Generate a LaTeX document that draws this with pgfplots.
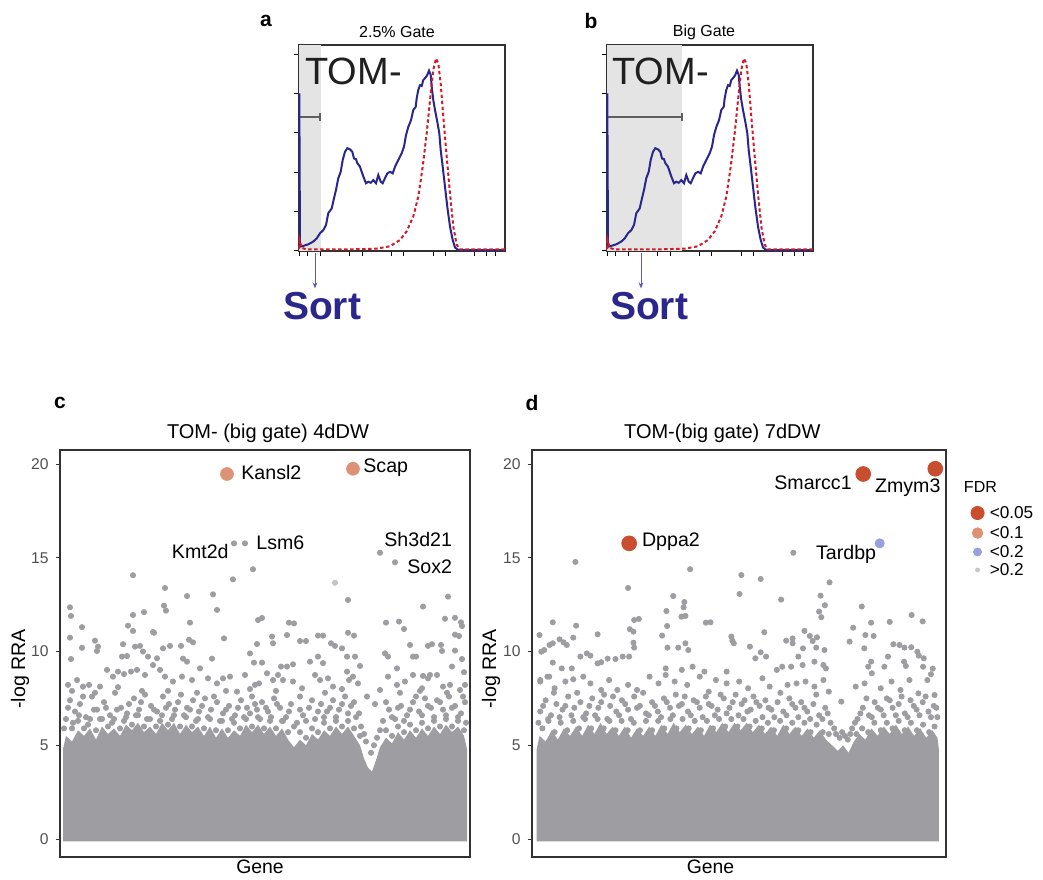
\documentclass[border=0pt]{standalone}
\usepackage{fontspec}
\setmainfont{Liberation Sans}
\usepackage{pgfplots}
\pgfplotsset{compat=1.18}
\usetikzlibrary{arrows.meta}

\definecolor{histblue}{RGB}{43,38,140}
\definecolor{histred}{RGB}{208,27,40}
\definecolor{gatefill}{RGB}{228,228,228}
\definecolor{barcol}{RGB}{95,95,95}
\definecolor{ptgray}{RGB}{158,158,162}
\definecolor{ltgray}{RGB}{196,196,198}
\definecolor{fdrA}{RGB}{201,78,47}
\definecolor{fdrB}{RGB}{222,146,117}
\definecolor{fdrC}{RGB}{152,160,220}
\definecolor{fdrD}{RGB}{200,200,200}
\definecolor{tickgray}{RGB}{80,80,80}
\definecolor{framecol}{RGB}{50,50,50}

\newcommand{\fs}[1]{\fontsize{#1}{#1}\selectfont}

\pgfplotsset{
  hist/.style={
    scale only axis, width=103pt, height=103pt,
    xmin=0, xmax=206, ymin=0, ymax=5.23,
    xtick={0,8.7,21.3,50.5,63.3,92.3,104.3,134,146.5,175.2,187.6,196.7},
    ytick={0,1,2,3,4,5},
    xticklabels={}, yticklabels={},
    tick align=outside, xtick pos=bottom, ytick pos=left,
    major tick length=2.6pt,
    every tick/.style={black, line width=0.5pt},
    axis line style={framecol, line width=0.6pt},
    clip=false,
  },
  rra/.style={
    scale only axis, height=203.5pt,
    ymin=-0.96, ymax=20.75,
    ytick={0,5,10,15,20}, xtick=\empty,
    tick align=outside, ytick pos=left,
    major tick length=2.2pt,
    every tick/.style={framecol, line width=0.5pt},
    axis line style={framecol, line width=0.6pt},
    tick label style={font=\fs{7.8}, text=tickgray},
    /pgf/number format/assume math mode=true,
    clip=false,
  },
  dots/.style={only marks, mark=*, mark size=1.3pt, color=ptgray},
}

\begin{document}
\begin{tikzpicture}
\useasboundingbox (0,0) rectangle (521.5pt,439.5pt);

% ---------- a ----------
\begin{axis}[hist, at={(149.5pt,314pt)}, anchor=south west]
\addplot[fill=gatefill, draw=none] coordinates {(0,0) (21.5,0) (21.5,5.23) (0,5.23)};
\addplot[barcol, line width=0.6pt] coordinates {(0.5,3.4) (21,3.4)};
\addplot[barcol, line width=0.6pt] coordinates {(21,3.3) (21,3.5)};
\addplot[histblue, line width=1pt] coordinates {
(0.3,4.0) (1,0.11) (4.3,0.13) (9.3,0.17) (14.3,0.24) (17.7,0.32) (21,0.45) (24.3,0.53)
(27,0.66) (29.3,0.96) (32.7,1.08) (35,1.34) (37,1.55) (39.3,1.85) (41.7,2.01) (43.7,2.31)
(46,2.52) (48.3,2.61) (51,2.58) (53.3,2.52) (55,2.35) (57,2.33) (58.3,2.23) (61,2.14)
(64.3,1.89) (67,1.72) (69.3,1.76) (71.7,1.73) (74.3,1.80) (77,1.72) (79.3,1.93) (81.7,1.76)
(83.7,1.72) (86,1.85) (88.3,1.97) (91,2.01) (93.7,1.97) (96,2.14) (99.3,2.31) (102.7,2.48)
(105,2.65) (107,2.94) (109.3,3.15) (112,3.32) (114.3,3.58) (116.7,3.66) (117.7,3.88)
(119.3,4.09) (121,4.21) (122.7,4.19) (124.3,4.34) (126.7,4.41) (128.3,4.47) (130,4.58)
(131.7,4.47) (132.7,4.17) (134.3,3.83) (136,3.58) (138.3,3.28) (140.3,2.99) (141.7,2.56)
(143.7,2.14) (146,1.63) (148.3,1.12) (151,0.62) (153.7,0.28) (156,0.09) (158.3,0.04)
(164.3,0.02) (206,0.02)};
\addplot[histred, line width=1pt, dash pattern=on 1.7pt off 1.3pt] coordinates {
(0.2,0.05) (0.5,0.28) (2.7,0.08) (7.7,0.04) (51,0.04) (77.7,0.06) (91,0.12) (101,0.28)
(107.7,0.5) (114.3,0.88) (119.3,1.38) (123.7,2.14) (127.7,2.99) (131,3.83) (134.3,4.6)
(137,4.89) (139.3,4.76) (141.7,4.25) (144.3,3.41) (147.7,2.39) (151,1.46) (154.3,0.62)
(157.7,0.16) (161,0.04) (206,0.04)};
\addplot[histblue!75, line width=0.5pt, -{Stealth[length=3pt,width=2.4pt]}] coordinates {(16,-0.05) (16,-0.95)};
\node[anchor=west, inner sep=0pt, font=\fs{19}, text=black!88] at (axis cs:6,4.57) {TOM-};
\node[font=\fs{8}] at (axis cs:98,5.56) {2.5\% Gate};
\node[font=\bfseries\fs{10.5}] at (axis cs:-33,5.84) {a};
\node[font=\bfseries\fs{19.5}, text=histblue] at (axis cs:23,-1.40) {Sort};
\end{axis}

% ---------- b ----------
\begin{axis}[hist, at={(303.5pt,314pt)}, anchor=south west]
\addplot[fill=gatefill, draw=none] coordinates {(0,0) (75,0) (75,5.23) (0,5.23)};
\addplot[barcol, line width=0.6pt] coordinates {(0.5,3.4) (75,3.4)};
\addplot[barcol, line width=0.6pt] coordinates {(75,3.3) (75,3.5)};
\addplot[histblue, line width=1pt] coordinates {
(0.3,4.0) (1,0.11) (4.3,0.13) (9.3,0.17) (14.3,0.24) (17.7,0.32) (21,0.45) (24.3,0.53)
(27,0.66) (29.3,0.96) (32.7,1.08) (35,1.34) (37,1.55) (39.3,1.85) (41.7,2.01) (43.7,2.31)
(46,2.52) (48.3,2.61) (51,2.58) (53.3,2.52) (55,2.35) (57,2.33) (58.3,2.23) (61,2.14)
(64.3,1.89) (67,1.72) (69.3,1.76) (71.7,1.73) (74.3,1.80) (77,1.72) (79.3,1.93) (81.7,1.76)
(83.7,1.72) (86,1.85) (88.3,1.97) (91,2.01) (93.7,1.97) (96,2.14) (99.3,2.31) (102.7,2.48)
(105,2.65) (107,2.94) (109.3,3.15) (112,3.32) (114.3,3.58) (116.7,3.66) (117.7,3.88)
(119.3,4.09) (121,4.21) (122.7,4.19) (124.3,4.34) (126.7,4.41) (128.3,4.47) (130,4.58)
(131.7,4.47) (132.7,4.17) (134.3,3.83) (136,3.58) (138.3,3.28) (140.3,2.99) (141.7,2.56)
(143.7,2.14) (146,1.63) (148.3,1.12) (151,0.62) (153.7,0.28) (156,0.09) (158.3,0.04)
(164.3,0.02) (206,0.02)};
\addplot[histred, line width=1pt, dash pattern=on 1.7pt off 1.3pt] coordinates {
(0.2,0.05) (0.5,0.28) (2.7,0.08) (7.7,0.04) (51,0.04) (77.7,0.06) (91,0.12) (101,0.28)
(107.7,0.5) (114.3,0.88) (119.3,1.38) (123.7,2.14) (127.7,2.99) (131,3.83) (134.3,4.6)
(137,4.89) (139.3,4.76) (141.7,4.25) (144.3,3.41) (147.7,2.39) (151,1.46) (154.3,0.62)
(157.7,0.16) (161,0.04) (206,0.04)};
\addplot[histblue!75, line width=0.5pt, -{Stealth[length=3pt,width=2.4pt]}] coordinates {(34,-0.05) (34,-0.95)};
\node[anchor=west, inner sep=0pt, font=\fs{19}, text=black!88] at (axis cs:5,4.57) {TOM-};
\node[font=\fs{8}] at (axis cs:97,5.56) {Big Gate};
\node[font=\bfseries\fs{10.5}] at (axis cs:-16,5.84) {b};
\node[font=\bfseries\fs{19.5}, text=histblue] at (axis cs:42,-1.40) {Sort};
\end{axis}

% ---------- c ----------
\begin{axis}[rra, at={(30pt,11pt)}, anchor=south west, width=205pt, xmin=60, xmax=470]
\addplot[fill=ptgray, draw=none] coordinates {
(63,-0.13) (63,4.8) (66,5.5) (72,5.2) (78,5.8) (84,5.5) (90,5.9) (96,5.3) (102,6.0) (108,5.6)
(114,5.9) (120,5.5) (126,6.1) (132,5.8) (138,6.2) (144,5.7) (150,6.0) (156,5.6) (162,6.2)
(168,5.8) (174,6.2) (180,5.6) (186,6.1) (192,5.7) (198,6.0) (204,5.5) (210,6.0) (216,5.4)
(222,5.9) (228,5.4) (234,5.8) (240,5.5) (246,6.1) (252,5.7) (258,6.1) (264,5.6) (270,6.0)
(276,5.5) (282,5.9) (288,5.3) (294,4.9) (300,5.3) (306,5.0) (312,5.6) (318,5.3) (324,5.8)
(330,5.5) (336,6.0) (342,5.6) (348,6.0) (354,5.5) (360,5.0) (364,4.3) (368,3.8) (372,3.6)
(376,4.2) (380,4.9) (386,5.4) (392,5.1) (398,5.7) (404,5.3) (410,5.8) (416,5.4) (422,5.9)
(428,5.5) (434,6.0) (440,5.6) (446,6.1) (452,5.7) (458,6.0) (464,5.5) (467,4.8) (467,-0.13)};
\addplot[dots] coordinates {
(72,5.9) (78,6.3) (84,5.9) (90,6.4) (96,5.8) (102,6.4) (108,6.0) (114,6.4) (120,5.9) (126,6.5)
(132,6.1) (138,6.6) (144,6.0) (150,6.4) (156,6.0) (162,6.6) (168,6.1) (174,6.6) (180,6.0)
(186,6.5) (192,6.0) (198,6.4) (204,5.9) (210,6.4) (216,5.8) (222,6.3) (228,5.8) (234,6.2)
(240,5.9) (246,6.4) (252,6.0) (258,6.5) (264,5.9) (270,6.3) (276,5.9) (282,6.3) (288,5.7)
(300,5.7) (306,5.4) (312,5.9) (318,5.7) (324,6.2) (330,5.9) (336,6.3) (342,6.0) (348,6.3)
(354,5.9) (360,5.5) (386,5.8) (392,5.5) (398,6.0) (404,5.7) (410,6.1) (416,5.8) (422,6.2)
(428,5.9) (434,6.3) (440,6.0) (446,6.4) (452,6.0) (458,6.3) (464,5.8)
(66,6.4) (70,7.4) (75,6.8) (80,7.2) (86,6.5) (92,7.6) (97,6.9) (104,7.3) (110,6.6) (115,7.8)
(121,7.0) (127,6.7) (134,7.5) (139,6.9) (145,7.7) (151,7.1) (157,6.8) (163,7.6) (169,7.2)
(175,6.9) (181,7.7) (187,7.0) (193,7.4) (199,6.8) (205,7.5) (211,6.9) (217,7.3) (223,6.7)
(229,7.1) (235,6.6) (241,7.4) (247,7.0) (252,7.6) (257,6.9) (262,7.3) (268,6.8) (274,7.5)
(280,7.0) (286,6.5) (291,7.2) (297,6.2) (303,6.6) (309,7.0) (315,6.4) (321,7.2) (327,6.8)
(333,7.4) (339,6.9) (345,7.6) (351,7.1) (356,6.5) (361,6.0) (366,5.2) (371,4.6) (377,5.4)
(383,6.3) (389,6.9) (395,6.4) (401,7.1) (407,6.6) (413,7.3) (419,6.8) (425,7.5) (431,7.0)
(437,7.4) (443,6.9) (449,7.6) (455,7.1) (461,6.7) (465,7.3)
(64,5.9) (68,7.0) (73,6.2) (79,6.6) (83,7.6) (88,6.1) (94,6.9) (100,6.4) (106,7.0) (112,6.2)
(117,6.9) (124,6.3) (129,7.2) (136,6.6) (141,7.3) (147,6.4) (154,6.9) (160,6.3) (166,7.0)
(172,6.4) (178,7.3) (184,6.6) (190,6.9) (196,6.3) (202,7.1) (208,6.5) (214,7.6) (220,6.3)
(226,6.9) (232,6.4) (238,7.0) (244,6.5) (250,6.7) (255,7.2) (260,6.4) (266,7.0) (271,6.5)
(277,7.2) (283,6.3) (289,6.8) (294,6.0) (300,6.9) (306,6.3) (312,7.4) (318,6.8) (324,6.5)
(330,7.0) (336,6.5) (342,7.2) (348,6.7) (354,7.3) (359,6.7) (364,5.6) (374,5.0) (380,5.8)
(386,7.3) (392,6.5) (398,7.0) (404,6.3) (410,6.9) (416,7.6) (422,6.6) (428,7.1) (434,6.5)
(440,7.3) (446,6.6) (452,7.0) (458,6.5) (463,7.6) (466,6.2)
(72,7.9) (95,7.8) (118,8.1) (142,7.9) (168,7.9) (197,7.8) (226,7.9) (250,8.0) (276,7.9)
(300,7.6) (325,7.8) (342,8.0) (375,7.2) (400,7.8) (420,7.9) (447,7.8)
(68,8.22) (77,8.48) (83,8.13) (89,8.22) (100,8.13) (107,9.02) (113,8.66) (118,8.93) (124,8.8)
(131,8.93) (137,9.02) (145,8.75) (153,9.28) (160,9.02) (165,8.66) (173,8.4) (182,8.66)
(192,8.48) (200,9.1) (208,8.57) (217,8.3) (223,8.57) (230,8.66) (237,7.86) (245,8.75)
(255,8.22) (259,8.3) (267,8.84) (273,8.48) (278,8.75) (283,8.48) (293,8.4) (302,8.04)
(315,8.75) (320,8.48) (328,8.57) (333,8.13) (347,8.93) (349,8.48) (353,8.66) (358,8.3)
(367,7.6) (380,7.95) (388,8.66) (397,8.22) (405,8.4) (413,8.75) (422,8.04) (428,8.57)
(437,8.75) (443,8.13) (450,8.22) (460,7.95) (465,8.22)
(234,15.77) (245,15.77) (253,14.39) (233,13.85) (133,14.07) (165,13.39) (187,12.96)
(213,13.05) (217,12.22) (348,12.75) (380,15.27) (395,14.76) (448,12.93) (423,12.4)
(70,12.36) (71,11.9) (82,11.3) (70,10.74) (133,11.95) (144,12.1) (164,12.45) (166,12.18)
(190,11.54) (128,11.38) (133,11.1) (153,11.04) (154,11.0) (189,10.63) (193,10.49) (224,10.7)
(258,11.68) (262,11.79) (289,11.54) (294,11.5) (257,10.4) (272,10.8) (273,10.44) (287,10.88)
(300,10.56) (306,10.56) (318,10.85) (323,10.85) (331,10.44) (335,10.3) (348,11.0) (354,10.85)
(386,11.54) (399,11.6) (404,11.2) (445,11.75) (455,11.8) (461,11.56) (462,11.36) (455,10.9)
(459,10.83) (410,10.35) (428,10.3) (432,10.39) (441,10.35) (455,10.05) (442,10.03) (342,10.17)
(95,10.58) (98,10.26) (97,10.03) (82,10.2) (71,9.6) (123,10.39) (135,10.26) (140,10.3)
(163,10.17) (170,10.3) (181,10.3) (143,10.0) (122,9.73) (127,9.76) (148,9.73) (157,9.64)
(183,9.62) (187,9.46) (212,9.62) (250,9.9) (254,9.41) (262,9.41) (281,9.2) (287,9.2)
(293,9.32) (310,9.46) (318,9.73) (323,9.38) (347,9.73) (355,9.73) (360,9.23) (385,9.9)
(388,9.73) (413,9.73) (416,9.73) (397,9.1) (452,9.2) (462,9.6) (464,8.9) (430,8.75) (423,8.7)};
\addplot[only marks, mark=*, mark size=1.3pt, color=ltgray] coordinates {(335,13.67)};
\addplot[only marks, mark=*, mark size=3.2pt, color=fdrB] coordinates {(227,19.47) (353,19.75)};
\node[anchor=west, inner sep=0pt, font=\fs{9.8}] at (axis cs:241,19.57) {Kansl2};
\node[anchor=west, inner sep=0pt, font=\fs{9.8}] at (axis cs:363,19.79) {Scap};
\node[anchor=east, inner sep=0pt, font=\fs{9.8}] at (axis cs:229,15.36) {Kmt2d};
\node[anchor=west, inner sep=0pt, font=\fs{9.8}] at (axis cs:256,15.79) {Lsm6};
\node[anchor=west, inner sep=0pt, font=\fs{9.8}] at (axis cs:384,15.95) {Sh3d21};
\node[anchor=west, inner sep=0pt, font=\fs{9.8}] at (axis cs:407,14.5) {Sox2};
\node[font=\fs{10}] at (axis cs:268,21.65) {TOM- (big gate) 4dDW};
\node[font=\bfseries\fs{10.5}] at (axis cs:60,23.25) {c};
\node[font=\fs{9.7}] at (axis cs:260,-1.49) {Gene};
\node[rotate=90, font=\fs{9.8}] at (axis cs:20,9.07) {-log RRA};
\end{axis}

% ---------- d ----------
\begin{axis}[rra, at={(266pt,11pt)}, anchor=south west, width=207pt, xmin=147, xmax=1302]
\addplot[fill=ptgray, draw=none] coordinates {
(160,-0.13) (160,4.8) (168,5.5) (185,5.2) (202,5.8) (219,5.3) (236,5.9) (253,5.5) (270,6.0)
(287,5.5) (304,6.1) (321,5.6) (338,6.2) (355,5.6) (372,6.0) (389,5.5) (406,6.0) (423,5.4)
(440,5.9) (457,5.5) (474,6.0) (491,5.5) (508,6.1) (525,5.6) (542,6.2) (559,5.7) (576,6.1)
(593,5.6) (610,6.0) (627,5.5) (644,6.1) (661,5.7) (678,6.2) (695,5.7) (712,6.2) (729,5.8)
(746,6.2) (763,5.7) (780,6.1) (797,5.6) (814,6.0) (831,5.5) (848,6.1) (865,5.6) (882,6.0)
(899,5.5) (916,5.9) (933,5.4) (950,5.8) (967,5.3) (984,5.0) (1000,4.7) (1015,5.0) (1030,4.6)
(1045,5.2) (1060,5.6) (1077,5.3) (1094,5.9) (1111,5.5) (1128,6.0) (1145,5.6) (1162,6.1)
(1179,5.6) (1196,6.0) (1213,5.5) (1230,5.9) (1247,5.4) (1264,5.8) (1278,5.4) (1282,4.8)
(1282,-0.13)};
\addplot[dots] coordinates {
(176,5.9) (193,6.3) (210,5.7) (227,6.2) (245,5.8) (262,6.3) (278,5.9) (295,6.4) (312,5.9)
(330,6.4) (347,5.9) (363,6.3) (380,5.8) (397,6.3) (414,5.8) (431,6.2) (448,5.8) (465,6.3)
(482,5.8) (499,6.3) (516,5.9) (533,6.4) (550,5.9) (567,6.4) (584,5.9) (601,6.3) (618,5.8)
(635,6.3) (652,5.9) (669,6.4) (686,6.0) (703,6.4) (720,6.0) (737,6.4) (754,6.0) (771,6.3)
(788,5.9) (805,6.2) (822,5.8) (839,6.3) (856,5.9) (873,6.2) (890,5.8) (907,6.2) (924,5.7)
(941,6.1) (958,5.7) (975,5.6) (1052,5.6) (1068,5.9) (1085,5.7) (1102,6.2) (1120,5.8)
(1137,6.2) (1153,5.9) (1170,6.3) (1187,5.8) (1204,6.2) (1221,5.8) (1238,6.1) (1255,5.7)
(1270,6.0)
(170,6.8) (185,7.4) (200,6.6) (215,7.2) (232,6.9) (248,7.6) (265,7.0) (282,7.3) (298,6.7)
(315,7.5) (332,7.0) (348,7.7) (365,7.1) (382,6.8) (398,7.4) (415,6.9) (432,7.6) (448,7.1)
(465,6.7) (482,7.3) (498,6.8) (515,7.5) (532,7.0) (548,7.7) (565,7.2) (582,6.8) (598,7.4)
(615,7.0) (632,7.6) (648,7.1) (665,6.9) (682,7.5) (698,7.0) (715,7.7) (732,7.2) (748,6.8)
(765,7.6) (782,7.1) (798,7.4) (815,6.9) (832,7.3) (848,6.8) (865,7.5) (882,7.0) (898,7.3)
(915,6.8) (932,7.2) (948,6.6) (965,7.0) (980,6.2) (995,5.6) (1012,5.7) (1028,5.3) (1040,5.9)
(1055,6.4) (1070,7.0) (1087,6.6) (1103,7.3) (1120,6.9) (1137,7.5) (1153,7.0) (1170,7.2)
(1187,6.7) (1203,7.4) (1220,6.9) (1237,7.3) (1253,6.8) (1268,7.1) (1278,6.5)
(165,6.2) (178,7.1) (192,6.4) (208,7.8) (224,6.5) (240,7.1) (257,6.6) (273,7.8) (290,6.5)
(307,7.1) (323,6.6) (340,7.3) (357,6.4) (373,7.6) (390,6.6) (407,7.2) (423,6.4) (440,7.0)
(457,7.8) (473,6.6) (490,7.1) (507,6.5) (523,7.3) (540,6.6) (557,7.1) (573,7.6) (590,6.6)
(607,7.3) (623,6.5) (640,7.2) (657,6.6) (673,7.7) (690,6.7) (707,7.3) (723,6.6) (740,7.4)
(757,6.9) (773,7.3) (790,6.5) (807,7.0) (823,6.5) (840,7.8) (857,6.6) (873,7.2) (890,6.5)
(907,7.0) (923,6.4) (940,7.7) (957,6.4) (972,6.7) (990,5.9) (1005,5.4) (1020,5.5) (1035,5.6)
(1048,6.2) (1063,6.7) (1080,7.5) (1095,6.5) (1112,7.0) (1128,6.6) (1145,7.4) (1162,6.6)
(1178,7.6) (1195,6.5) (1212,7.1) (1228,6.6) (1245,7.6) (1260,6.5) (1275,7.0)
(170,8.48) (195,8.66) (210,8.04) (240,8.4) (262,8.52) (290,8.66) (310,8.3) (340,7.95)
(362,8.48) (385,7.95) (415,8.22) (440,7.95) (475,8.66) (500,8.3) (520,8.75) (545,8.4)
(580,8.22) (615,8.66) (640,7.86) (660,8.48) (690,8.3) (725,8.4) (750,8.04) (790,8.57)
(810,8.13) (830,9.02) (860,8.22) (885,8.3) (910,8.4) (935,8.13) (960,8.48) (975,7.86)
(1010,7.33) (1050,8.13) (1075,8.3) (1095,8.84) (1120,8.04) (1150,8.4) (1175,7.95)
(1200,8.48) (1225,7.77) (1250,8.48) (1270,7.68)
(876,15.27) (268,14.78) (588,14.39) (731,14.08) (785,13.87) (977,13.69) (415,13.39)
(541,12.96) (726,13.07) (952,12.98) (842,12.77) (964,12.47) (1067,12.4) (572,12.64)
(570,12.36) (522,12.16) (948,12.13) (954,11.83) (1206,11.95) (564,11.86) (575,11.9)
(432,11.68) (445,11.74) (632,11.54) (645,11.56) (1145,11.58) (1237,11.61) (1093,11.54)
(205,11.56) (270,11.38) (524,11.36) (420,11.19) (430,11.06) (907,11.1) (795,11.03)
(1043,11.27) (1100,10.83) (1077,10.88) (168,10.88) (330,10.92) (510,10.85) (703,10.8)
(706,10.58) (262,10.74) (224,10.65) (235,10.49) (205,10.44) (244,10.35) (181,10.08)
(196,10.35) (173,9.99) (432,10.21) (430,10.47) (856,10.58) (874,10.7) (874,10.44)
(922,10.83) (930,10.56) (942,10.76) (1033,10.53) (1074,10.17) (963,10.08) (940,10.21)
(903,10.17) (575,10.44) (583,10.08) (555,10.21) (525,10.21) (755,10.26) (785,9.96)
(710,10.44) (1155,10.39) (1172,10.35) (1186,10.21) (1205,10.23) (1222,9.99) (1226,9.78)
(1240,9.64) (1238,9.19) (1265,9.09) (1260,8.79) (1140,9.73) (1093,9.46) (1085,9.19)
(1130,9.19) (1185,9.46) (1190,9.23) (400,9.73) (418,9.73) (380,9.6) (358,9.62) (282,9.73)
(300,9.9) (310,9.78) (230,9.1) (205,9.41) (258,9.1) (330,9.37) (340,9.43) (520,9.1)
(595,9.19) (565,9.02) (628,8.93) (690,8.93) (770,9.64) (800,9.73) (845,9.19) (870,9.19)
(890,9.73) (902,9.28) (935,9.46) (960,9.28) (967,9.1) (170,8.4) (190,8.66)};
\addplot[only marks, mark=*, mark size=2.3pt, color=fdrC] coordinates {(1117,15.77)};
\addplot[only marks, mark=*, mark size=3.7pt, color=fdrA] coordinates {(1071,19.47) (1272,19.75) (418,15.77)};
\node[anchor=east, inner sep=0pt, font=\fs{9.8}] at (axis cs:1040,18.99) {Smarcc1};
\node[anchor=west, inner sep=0pt, font=\fs{9.8}] at (axis cs:1103,18.72) {Zmym3};
\node[anchor=west, inner sep=0pt, font=\fs{9.8}] at (axis cs:453,15.84) {Dppa2};
\node[anchor=east, inner sep=0pt, font=\fs{9.8}] at (axis cs:1108,15.2) {Tardbp};
\node[font=\fs{10}] at (axis cs:678,21.65) {TOM-(big gate) 7dDW};
\node[font=\bfseries\fs{10.5}] at (axis cs:147,23.25) {d};
\node[font=\fs{9.7}] at (axis cs:645,-1.49) {Gene};
\node[rotate=90, font=\fs{9.8}] at (axis cs:33,9.07) {-log RRA};
% legend
\node[anchor=west, inner sep=0pt, font=\fs{8}] at (axis cs:1351,18.77) {FDR};
\addplot[only marks, mark=*, mark size=3.3pt, color=fdrA] coordinates {(1390,17.39)};
\addplot[only marks, mark=*, mark size=2.65pt, color=fdrB] coordinates {(1390,16.32)};
\addplot[only marks, mark=*, mark size=2pt, color=fdrC] coordinates {(1390,15.31)};
\addplot[only marks, mark=*, mark size=1pt, color=fdrD] coordinates {(1390,14.35)};
\node[anchor=west, inner sep=0pt, font=\fs{8.6}] at (axis cs:1423,17.39) {<0.05};
\node[anchor=west, inner sep=0pt, font=\fs{8.6}] at (axis cs:1423,16.32) {<0.1};
\node[anchor=west, inner sep=0pt, font=\fs{8.6}] at (axis cs:1423,15.31) {<0.2};
\node[anchor=west, inner sep=0pt, font=\fs{8.6}] at (axis cs:1423,14.35) {>0.2};
\end{axis}
\end{tikzpicture}
\end{document}
